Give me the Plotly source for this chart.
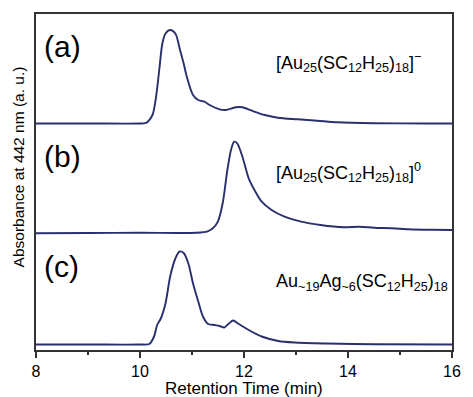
import plotly.graph_objects as go

# Retention time (min) and absorbance (a.u.) for each chromatogram
time_a = [8.0, 9.0, 10.0, 10.10, 10.15, 10.24, 10.30, 10.37, 10.43, 10.49, 10.58, 10.68, 10.77, 10.84,
          10.90, 11.02, 11.12, 11.24, 11.34, 11.53, 11.65, 11.84, 11.97, 12.15, 12.40, 12.65, 13.03,
          13.41, 13.80, 14.50, 15.50, 16.0]
abs_a = [0.0, 0.0, 0.0, 0.003, 0.018, 0.085, 0.235, 0.535, 0.80, 0.90, 0.935, 0.90, 0.735, 0.60,
         0.468, 0.285, 0.235, 0.218, 0.185, 0.142, 0.135, 0.162, 0.162, 0.128, 0.085, 0.058, 0.042,
         0.028, 0.012, 0.003, 0.0, 0.0]

time_b = [8.0, 9.0, 10.0, 11.09, 11.30, 11.40, 11.50, 11.59, 11.68, 11.75, 11.81, 11.87, 11.97, 12.09,
          12.22, 12.34, 12.53, 12.78, 13.10, 13.47, 13.91, 14.22, 14.50, 14.85, 15.17, 15.60, 16.0]
abs_b = [0.0, 0.003, 0.005, 0.006, 0.02, 0.05, 0.12, 0.30, 0.633, 0.833, 0.916, 0.90, 0.766, 0.55,
         0.416, 0.316, 0.233, 0.166, 0.116, 0.083, 0.06, 0.066, 0.055, 0.05, 0.04, 0.035, 0.033]

time_c = [8.0, 9.0, 10.0, 10.18, 10.27, 10.33, 10.40, 10.49, 10.58, 10.68, 10.76, 10.84, 10.93, 11.02,
          11.12, 11.21, 11.31, 11.43, 11.53, 11.62, 11.71, 11.79, 11.90, 12.09, 12.34, 12.66, 12.97,
          13.60, 14.50, 16.0]
abs_c = [0.0, 0.0, 0.0, 0.005, 0.08, 0.195, 0.26, 0.41, 0.68, 0.86, 0.93, 0.915, 0.81, 0.61,
         0.43, 0.28, 0.205, 0.195, 0.185, 0.17, 0.21, 0.24, 0.205, 0.145, 0.08, 0.035, 0.02,
         0.01, 0.003, 0.0]

offsets = {"a": 2.265, "b": 1.167, "c": 0.055}
panel_labels = ["(a)", "(b)", "(c)"]
formulas = [
    "[Au<sub>25</sub>(SC<sub>12</sub>H<sub>25</sub>)<sub>18</sub>]<sup>−</sup>",
    "[Au<sub>25</sub>(SC<sub>12</sub>H<sub>25</sub>)<sub>18</sub>]<sup>0</sup>",
    "Au<sub>~19</sub>Ag<sub>~6</sub>(SC<sub>12</sub>H<sub>25</sub>)<sub>18</sub>",
]
x_ticks = [8, 10, 12, 14, 16]

FONT = "Liberation Sans, Arial, Helvetica, sans-serif"
LINE = "#2a2f6e"
AX = "#333333"

fig = go.Figure()
for t, a, k in [(time_a, abs_a, "a"), (time_b, abs_b, "b"), (time_c, abs_c, "c")]:
    fig.add_trace(go.Scatter(
        x=t, y=[v + offsets[k] for v in a], mode="lines",
        line=dict(color=LINE, width=1.9, shape="spline", smoothing=0.8),
        showlegend=False, hoverinfo="skip"))

W, H = 473, 397
L, R, T, B = 36, 12, 14, 47
pw, ph = W - L - R, H - T - B

def px(xp):
    return (xp - L) / pw

def py(yp):
    return (H - B - yp) / ph

ann = []
label_y = [46, 156, 266]
formula_y = [62, 172, 282]
for lab, ly in zip(panel_labels, label_y):
    ann.append(dict(text=lab, x=px(42), y=py(ly), xref="paper", yref="paper",
                    xanchor="left", yanchor="middle", showarrow=False,
                    font=dict(family=FONT, size=30, color="black")))
for f, fy in zip(formulas, formula_y):
    ann.append(dict(text=f, x=px(279), y=py(fy), xref="paper", yref="paper",
                    xanchor="left", yanchor="middle", showarrow=False,
                    font=dict(family=FONT, size=18, color="black")))
ann.append(dict(text="Absorbance at 442 nm (a. u.)", x=px(18), y=py(167), xref="paper", yref="paper",
                xanchor="center", yanchor="middle", textangle=-90, showarrow=False,
                font=dict(family=FONT, size=15.5, color="black")))
ann.append(dict(text="Retention Time (min)", x=px(248), y=py(388), xref="paper", yref="paper",
                xanchor="center", yanchor="middle", showarrow=False,
                font=dict(family=FONT, size=17, color="black")))

fig.update_layout(
    width=W, height=H,
    margin=dict(l=L, r=R, t=T, b=B, pad=0),
    paper_bgcolor="white", plot_bgcolor="white",
    annotations=ann,
    xaxis=dict(range=[8, 16], tickvals=x_ticks, ticktext=[str(v) for v in x_ticks],
               ticks="outside", ticklen=6, tickwidth=1.5, tickcolor=AX,
               minor=dict(dtick=1, tick0=8, ticks="outside", ticklen=3, tickwidth=1.5, tickcolor=AX),
               showline=True, linecolor=AX, linewidth=1.5, mirror=True,
               showgrid=False, zeroline=False,
               tickfont=dict(family=FONT, size=16, color="black")),
    yaxis=dict(range=[0, ph / 100], showticklabels=False, ticks="",
               showline=True, linecolor=AX, linewidth=1.5, mirror=True,
               showgrid=False, zeroline=False),
)

fig.write_html("out.html")
